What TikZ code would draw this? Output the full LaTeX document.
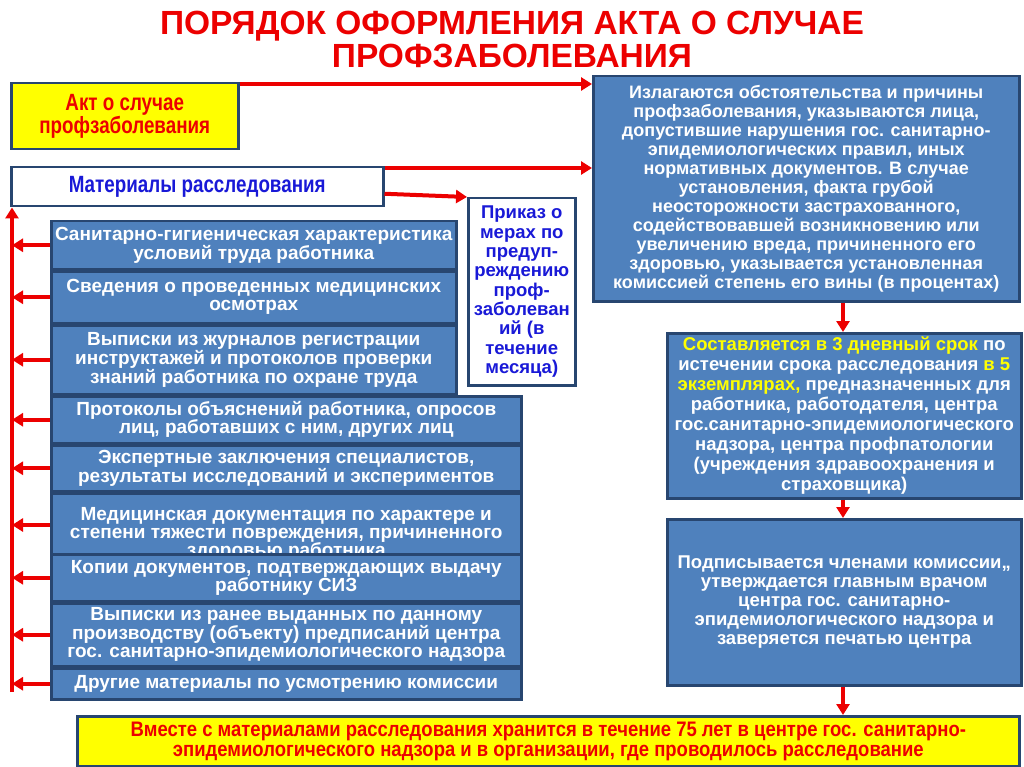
\documentclass[tikz,border=0pt]{standalone}
\usepackage{fontspec}
\setmainfont{Liberation Sans}
\newfontfamily\narrowfont[FakeStretch=0.8]{Liberation Sans}
\newfontfamily\semifont[FakeStretch=0.88]{Liberation Sans}
\usetikzlibrary{arrows.meta}
\definecolor{boxblue}{RGB}{79,129,189}
\definecolor{edgeblue}{RGB}{40,70,112}
\definecolor{txtblue}{RGB}{25,25,215}
\definecolor{arrred}{RGB}{236,0,0}
\definecolor{hlyellow}{RGB}{255,255,0}
\begin{document}
\begin{tikzpicture}[x=1pt,y=-1pt,
  bluebox/.style={draw=edgeblue, line width=2.5pt, fill=boxblue, text=white,
    font=\bfseries\fontsize{19}{18}\selectfont, align=center, anchor=north west, inner sep=0pt},
  rbox/.style={bluebox, font=\bfseries\fontsize{18}{19}\selectfont},
  whitebox/.style={draw=edgeblue, line width=2.5pt, fill=white, text=txtblue,
    font=\narrowfont\bfseries\fontsize{23.5}{21}\selectfont, align=center, anchor=north west, inner sep=0pt},
  yelbox/.style={draw=edgeblue, line width=2.5pt, fill=hlyellow, text=arrred,
    font=\narrowfont\bfseries\fontsize{23.5}{21}\selectfont, align=center, anchor=north west, inner sep=0pt},
  redarrow/.style={draw=arrred, line width=4pt, -{Triangle[length=11pt,width=13pt]}}]
\useasboundingbox[fill=white] (0,0) rectangle (1024,767);

% title
\node[text=arrred, font=\bfseries\fontsize{33.5}{33}\selectfont, align=center] (title) at (512,39)
  {ПОРЯДОК ОФОРМЛЕНИЯ АКТА О СЛУЧАЕ\\ПРОФЗАБОЛЕВАНИЯ};

% left column
\node[yelbox, minimum width=227pt, minimum height=66pt] (akt) at (10,82) {Акт о случае\\профзаболевания};
\node[whitebox, minimum width=372pt, minimum height=39pt] (mat) at (10,166) {Материалы расследования};
\node[whitebox, minimum width=107pt, minimum height=187pt, font=\bfseries\fontsize{18.5}{19.3}\selectfont] (prik) at (467,197)
  {Приказ о\\мерах по\\предуп-\\реждению\\проф-\\заболеван\\ий (в\\течение\\месяца)};

\node[bluebox, minimum width=405pt, minimum height=48pt] (s1) at (50,220) {Санитарно-гигиеническая характеристика\\условий труда работника};
\node[bluebox, minimum width=405pt, minimum height=52pt] (s2) at (50,270) {Сведения о проведенных медицинских\\осмотрах};
\node[bluebox, minimum width=405pt, minimum height=69pt] (s3) at (50,324) {Выписки из журналов регистрации\\инструктажей и протоколов проверки\\знаний работника по охране труда};
\node[bluebox, minimum width=470pt, minimum height=47pt] (s4) at (50,395) {Протоколы объяснений работника, опросов\\лиц, работавших с ним, других лиц};
\node[bluebox, minimum width=470pt, minimum height=46pt] (s5) at (50,444) {Экспертные заключения специалистов,\\результаты исследований и экспериментов};
\node[bluebox, minimum width=470pt, minimum height=61pt, text height=63.5pt, text depth=-3.5pt] (s6) at (50,492) {Медицинская документация по характере и\\степени тяжести повреждения, причиненного\\здоровью работника};
\node[bluebox, minimum width=470pt, minimum height=47pt] (s7) at (50,553) {Копии документов, подтверждающих выдачу\\работнику СИЗ};
\node[bluebox, minimum width=470pt, minimum height=63pt] (s8) at (50,602) {Выписки из ранее выданных по данному\\производству (объекту) предписаний центра\\гос. санитарно-эпидемиологического надзора};
\node[bluebox, minimum width=470pt, minimum height=31pt] (s9) at (50,667) {Другие материалы по усмотрению комиссии};

% right column
\node[rbox, minimum width=426pt, minimum height=225pt] (r1) at (592,75)
  {Излагаются обстоятельства и причины\\профзаболевания, указываются лица,\\допустившие нарушения гос. санитарно-\\эпидемиологических правил, иных\\нормативных документов. В случае\\установления, факта грубой\\неосторожности застрахованного,\\содействовавшей возникновению или\\увеличению вреда, причиненного его\\здоровью, указывается установленная\\комиссией степень его вины (в процентах)};
\node[rbox, minimum width=354pt, minimum height=165pt, font=\bfseries\fontsize{18.5}{20}\selectfont] (r2) at (666,332)
  {\textcolor{hlyellow}{Составляется в 3 дневный срок} по\\истечении срока расследования \textcolor{hlyellow}{в 5}\\\textcolor{hlyellow}{экземплярах,} предназначенных для\\работника, работодателя, центра\\гос.санитарно-эпидемиологического\\надзора, центра профпатологии\\(учреждения здравоохранения и\\страховщика)};
\node[rbox, minimum width=354pt, minimum height=166pt, font=\bfseries\fontsize{18.5}{19}\selectfont] (r3) at (666,518)
  {Подписывается членами комиссии,,\\утверждается главным врачом\\центра гос. санитарно-\\эпидемиологического надзора и\\заверяется печатью центра};
\node[yelbox, minimum width=942pt, minimum height=50pt, font=\semifont\bfseries\fontsize{21}{20}\selectfont] (bot) at (76,715)
  {Вместе с материалами расследования хранится в течение 75 лет в центре гос. санитарно-\\эпидемиологического надзора и в организации, где проводилось расследование};

% arrows
\coordinate (vx) at (12,692);
\coordinate (ax) at (843,0);
\draw[redarrow] (vx) -- (vx |- mat.south);
\foreach \n in {s1,s2,s3,s4,s5,s6,s7,s8,s9}
  \draw[redarrow] (\n.west) -- (\n.west -| vx);
\draw[redarrow] ([yshift=-2pt]akt.north east) -- ([yshift=-2pt]akt.north east -| r1.west);
\draw[redarrow] ([yshift=-2pt]mat.north east) -- ([yshift=-2pt]mat.north east -| r1.west);
\draw[redarrow] ([yshift=-7pt]mat.east) -- (prik.north west);
\draw[redarrow] (ax |- r1.south) -- (ax |- r2.north);
\draw[redarrow] (ax |- r2.south) -- (ax |- r3.north);
\draw[redarrow] (ax |- r3.south) -- (ax |- bot.north);
\end{tikzpicture}
\end{document}
